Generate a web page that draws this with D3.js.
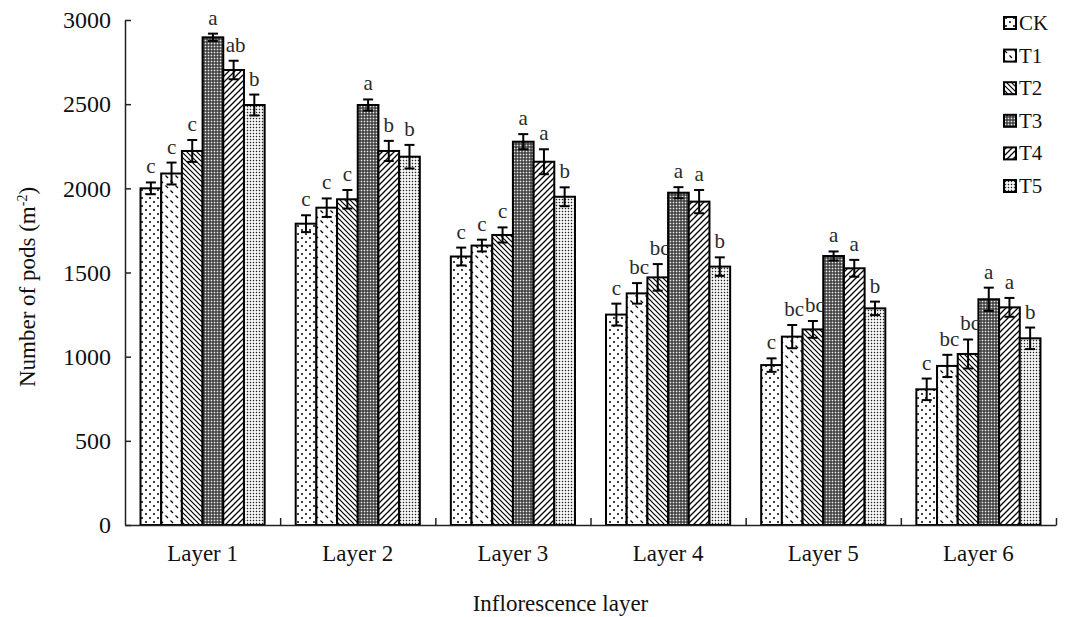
<!DOCTYPE html>
<html>
<head>
<meta charset="utf-8">
<script src="https://cdn.jsdelivr.net/npm/d3@7"></script>
<style>
  html, body { margin: 0; padding: 0; background: #fff; }
  svg { display: block; }
  text { font-family: "Liberation Serif", "Times New Roman", serif; fill: #111; }
</style>
</head>
<body>
<svg id="chart" width="1065" height="617"></svg>
<script>
// Inflorescence layers and treatments
const categories = ["Layer 1", "Layer 2", "Layer 3", "Layer 4", "Layer 5", "Layer 6"];
const treatments = ["CK", "T1", "T2", "T3", "T4", "T5"];

// Mean number of pods (m^-2) per layer
const ckValues = [2000, 1790, 1595, 1250, 950, 806];
const t1Values = [2088, 1885, 1660, 1376, 1119, 945];
const t2Values = [2222, 1935, 1723, 1471, 1162, 1016];
const t3Values = [2897, 2495, 2277, 1974, 1598, 1341];
const t4Values = [2703, 2222, 2158, 1921, 1525, 1293];
const t5Values = [2495, 2188, 1950, 1535, 1287, 1109];

// Standard errors
const ckErrors = [35, 50, 53, 65, 40, 64];
const t1Errors = [65, 55, 35, 61, 69, 66];
const t2Errors = [65, 55, 45, 79, 50, 86];
const t3Errors = [22, 33, 45, 33, 27, 69];
const t4Errors = [55, 60, 74, 69, 50, 56];
const t5Errors = [62, 70, 56, 55, 40, 64];

// Significance letters
const ckLetters = ["c", "c", "c", "c", "c", "c"];
const t1Letters = ["c", "c", "c", "bc", "bc", "bc"];
const t2Letters = ["c", "c", "c", "bc", "bc", "bc"];
const t3Letters = ["a", "a", "a", "a", "a", "a"];
const t4Letters = ["ab", "b", "a", "a", "a", "a"];
const t5Letters = ["b", "b", "b", "b", "b", "b"];

const yTicks = [0, 500, 1000, 1500, 2000, 2500, 3000];

const seriesValues = [ckValues, t1Values, t2Values, t3Values, t4Values, t5Values];
const seriesErrors = [ckErrors, t1Errors, t2Errors, t3Errors, t4Errors, t5Errors];
const seriesLetters = [ckLetters, t1Letters, t2Letters, t3Letters, t4Letters, t5Letters];

const rows = [];
categories.forEach((cat, ci) => {
  treatments.forEach((tr, ti) => {
    rows.push({
      cat, tr, ti,
      value: seriesValues[ti][ci],
      err: seriesErrors[ti][ci],
      letter: seriesLetters[ti][ci]
    });
  });
});

const svg = d3.select("#chart");
const plotLeft = 125, plotRight = 1056, plotTop = 20, plotBottom = 525;

const y = d3.scaleLinear().domain([0, 3000]).range([plotBottom, plotTop]);
const x0 = d3.scaleBand().domain(categories).range([plotLeft, plotRight])
  .paddingInner(0.2).paddingOuter(0.1);
const x1 = d3.scaleBand().domain(treatments).range([0, x0.bandwidth()]);
const xEdge = d3.scaleLinear().domain([0, categories.length]).range([plotLeft, plotRight]);

// Fill patterns for each treatment
const defs = svg.append("defs");
function pat(id, w, h) {
  const p = defs.append("pattern").attr("id", id)
    .attr("patternUnits", "userSpaceOnUse").attr("width", w).attr("height", h);
  p.append("rect").attr("width", w).attr("height", h).attr("fill", "#fff");
  return p;
}
// CK: sparse dots
{
  const p = pat("p-ck", 8, 8);
  p.append("circle").attr("cx", 2).attr("cy", 2).attr("r", 1).attr("fill", "#000");
  p.append("circle").attr("cx", 6).attr("cy", 6).attr("r", 1).attr("fill", "#000");
}
// T1: dashed back-diagonals
{
  const p = pat("p-t1", 10, 10);
  p.append("line").attr("x1", 0.5).attr("y1", 0.5).attr("x2", 3).attr("y2", 3)
    .attr("stroke", "#000").attr("stroke-width", 1.3);
  p.append("line").attr("x1", 5.5).attr("y1", 5.5).attr("x2", 8).attr("y2", 8)
    .attr("stroke", "#000").attr("stroke-width", 1.3);
}
// T2: dense back-diagonals
{
  const p = pat("p-t2", 5, 5);
  p.append("path").attr("d", "M-1,-1 L6,6 M-1,4 L1,6 M4,-1 L6,1")
    .attr("stroke", "#000").attr("stroke-width", 1.2);
}
// T3: dark mesh
{
  const p = pat("p-t3", 3, 3);
  p.select("rect").attr("fill", "#2a2a2a");
  p.append("rect").attr("x", 0.6).attr("y", 0.6).attr("width", 1.8).attr("height", 1.8).attr("fill", "#e6e6e6");
}
// T4: forward diagonals
{
  const p = pat("p-t4", 6, 6);
  p.append("path").attr("d", "M-1,7 L7,-1 M-1,1 L1,-1 M5,7 L7,5")
    .attr("stroke", "#000").attr("stroke-width", 1.3);
}
// T5: fine dot grid
{
  const p = pat("p-t5", 3, 3);
  p.append("rect").attr("x", 0.8).attr("y", 0.8).attr("width", 1.4).attr("height", 1.4).attr("fill", "#222");
}
const fills = { CK: "url(#p-ck)", T1: "url(#p-t1)", T2: "url(#p-t2)", T3: "url(#p-t3)", T4: "url(#p-t4)", T5: "url(#p-t5)" };

// Bars
const bars = svg.append("g");
bars.selectAll("rect").data(rows).join("rect")
  .attr("x", d => x0(d.cat) + x1(d.tr))
  .attr("y", d => y(d.value))
  .attr("width", x1.bandwidth())
  .attr("height", d => y(0) - y(d.value))
  .attr("fill", d => fills[d.tr])
  .attr("stroke", "#000").attr("stroke-width", 2);

// Error bars
const cap = 5;
const eb = svg.append("g").attr("stroke", "#000").attr("stroke-width", 2);
rows.forEach(d => {
  const cx = x0(d.cat) + x1(d.tr) + x1.bandwidth() / 2;
  eb.append("line").attr("x1", cx).attr("x2", cx).attr("y1", y(d.value + d.err)).attr("y2", y(d.value - d.err));
  eb.append("line").attr("x1", cx - cap).attr("x2", cx + cap).attr("y1", y(d.value + d.err)).attr("y2", y(d.value + d.err));
  eb.append("line").attr("x1", cx - cap).attr("x2", cx + cap).attr("y1", y(d.value - d.err)).attr("y2", y(d.value - d.err));
});

// Significance letters
svg.append("g").selectAll("text").data(rows).join("text")
  .attr("x", d => x0(d.cat) + x1(d.tr) + x1.bandwidth() / 2 + (d.letter.length > 1 ? 2 : 0))
  .attr("y", d => y(d.value + d.err) - 9)
  .attr("text-anchor", "middle")
  .attr("font-size", 21)
  .style("fill", "#2a2a2a")
  .text(d => d.letter);

// Y axis
const yAxis = svg.append("g").attr("transform", `translate(${plotLeft},0)`)
  .call(d3.axisLeft(y).tickValues(yTicks).tickFormat(d3.format("d"))
    .tickSizeInner(-6).tickSizeOuter(0).tickPadding(14));
yAxis.select(".domain").attr("stroke", "#222").attr("stroke-width", 1.5);
yAxis.selectAll(".tick line").attr("stroke", "#222").attr("stroke-width", 1.5);
yAxis.selectAll(".tick text").attr("font-size", 24).attr("font-family", "Liberation Serif").style("fill", "#111");

// X axis: boundary ticks and category labels
const xAxis = svg.append("g").attr("transform", `translate(0,${plotBottom})`)
  .call(d3.axisBottom(xEdge).tickValues(d3.range(1, categories.length + 1)).tickSizeInner(-7).tickSizeOuter(0).tickFormat(""));
xAxis.select(".domain").attr("stroke", "#222").attr("stroke-width", 1.5);
xAxis.selectAll(".tick line").attr("stroke", "#222").attr("stroke-width", 1.5);

const xLabels = svg.append("g").attr("transform", `translate(0,${plotBottom})`)
  .call(d3.axisBottom(x0).tickSize(0).tickPadding(20));
xLabels.select(".domain").remove();
xLabels.selectAll(".tick text").attr("font-size", 23).attr("font-family", "Liberation Serif").style("fill", "#111");

// Axis titles
svg.append("text")
  .attr("x", (plotLeft + plotRight) / 2 - 30).attr("y", 611)
  .attr("text-anchor", "middle").attr("font-size", 23)
  .text("Inflorescence layer");

const yTitle = svg.append("text")
  .attr("transform", "translate(35,287) rotate(-90)")
  .attr("text-anchor", "middle").attr("font-size", 23);
yTitle.append("tspan").text("Number of pods (m");
yTitle.append("tspan").attr("dy", -8).attr("font-size", 14).text("-2");
yTitle.append("tspan").attr("dy", 8).text(")");

// Legend
const legend = svg.append("g").attr("transform", "translate(1004,0)");
treatments.forEach((tr, i) => {
  const cy = 23 + i * 32.6;
  legend.append("rect").attr("x", 0).attr("y", cy - 6).attr("width", 12).attr("height", 12)
    .attr("fill", fills[tr]).attr("stroke", "#000").attr("stroke-width", 2);
  legend.append("text").attr("x", 15).attr("y", cy + 7).attr("font-size", 21).text(tr);
});
</script>
</body>
</html>
